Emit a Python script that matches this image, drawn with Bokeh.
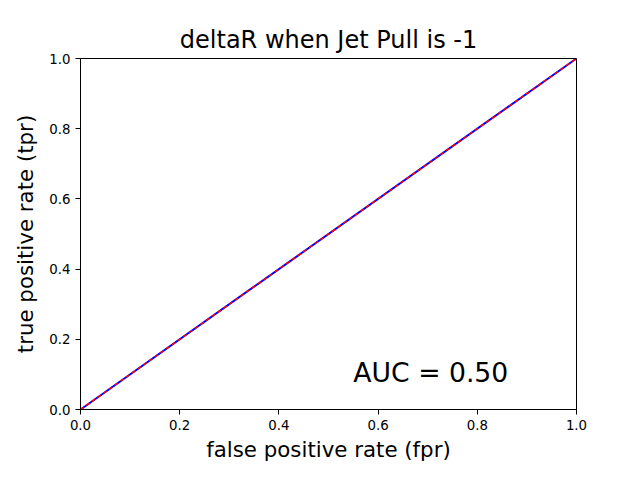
from bokeh.plotting import figure
from bokeh.models import Range1d, Label
from bokeh.embed import file_html
from bokeh.resources import INLINE

# ROC curve values
fpr = [0.0, 1.0]
tpr = [0.0, 1.0]
chance_x = [0.0, 1.0]
chance_y = [0.0, 1.0]
auc = 0.50
ticks = [0.0, 0.2, 0.4, 0.6, 0.8, 1.0]
tick_labels = {0.0: "0.0", 0.2: "0.2", 0.4: "0.4", 0.6: "0.6", 0.8: "0.8", 1.0: "1.0"}

p = figure(width=624, height=464, output_backend="svg", toolbar_location=None,
           title="deltaR when Jet Pull is -1",
           min_border_left=80, min_border_right=48, min_border_top=58, min_border_bottom=40)
p.x_range = Range1d(0, 1)
p.y_range = Range1d(0, 1)

p.title.align = "center"
p.title.text_font = "DejaVu Sans"
p.title.text_font_size = "18pt"
p.title.text_font_style = "normal"
p.title.text_color = "black"

p.xgrid.visible = False
p.ygrid.visible = False
p.outline_line_color = "black"

for ax in (p.xaxis, p.yaxis):
    ax.ticker = ticks
    ax.major_label_overrides = tick_labels
    ax.minor_tick_line_color = None
    ax.major_tick_out = 5
    ax.major_tick_in = 0
    ax.major_tick_line_color = "black"
    ax.major_label_text_font = "DejaVu Sans"
    ax.major_label_text_font_size = "10pt"
    ax.major_label_text_color = "black"
    ax.axis_label_text_font = "DejaVu Sans"
    ax.axis_label_text_font_size = "16pt"
    ax.axis_label_text_font_style = "normal"
    ax.axis_label_text_color = "black"
    ax.axis_line_color = "black"
p.xaxis.axis_label = "false positive rate (fpr)"
p.yaxis.axis_label = "true positive rate (tpr)"
p.xaxis.axis_label_standoff = 4
p.yaxis.axis_label_standoff = 8

p.line(fpr, tpr, line_color="blue", line_width=2)
p.line(chance_x, chance_y, line_color="red", line_width=1.5, line_dash="4 3")

p.add_layout(Label(x=0.55, y=0.06, text="AUC = %.2f" % auc,
                   text_font="DejaVu Sans", text_font_size="20pt", text_color="black"))

open("out.html", "w").write(file_html(p, INLINE))
